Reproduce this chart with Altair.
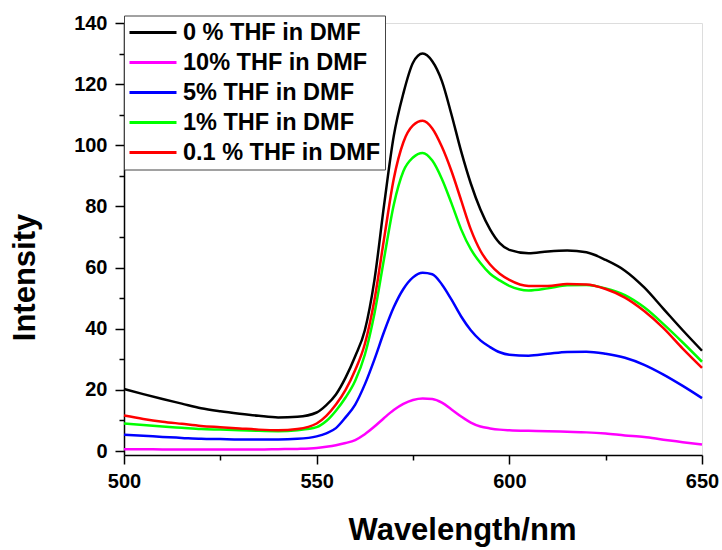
import altair as alt
import pandas as pd

wavelength = [500, 505, 510, 515, 520, 525, 530, 535, 540, 545, 550, 552.5, 555, 557.5,
              560, 562.5, 565, 567.5, 570, 572.5, 575, 577.5, 580, 582.5, 585, 587.5,
              590, 592.5, 595, 597.5, 600, 605, 610, 615, 620, 625, 630, 635, 640, 645, 650]

thf_0 = [20.3, 18.6, 17.0, 15.5, 14.0, 13.0, 12.2, 11.5, 11.0, 11.2, 12.6, 15.0, 18.5, 24.0,
         31.0, 39.5, 56.0, 80.5, 103.0, 117.0, 127.0, 130.0, 127.5, 121.0, 110.0, 98.0,
         87.5, 79.0, 72.5, 68.0, 65.8, 64.7, 65.3, 65.6, 65.0, 62.5, 59.0, 53.5, 46.5, 39.5, 32.8]

thf_10 = [0.6, 0.6, 0.5, 0.5, 0.5, 0.5, 0.5, 0.5, 0.6, 0.7, 1.0, 1.4, 1.9, 2.6,
          3.6, 5.5, 8.0, 10.8, 13.4, 15.4, 16.7, 17.2, 17.0, 15.8, 13.6, 11.3,
          9.3, 8.0, 7.4, 7.0, 6.8, 6.6, 6.5, 6.3, 6.1, 5.7, 5.1, 4.6, 3.7, 2.9, 2.1]

thf_5 = [5.3, 5.0, 4.6, 4.3, 4.0, 3.9, 3.8, 3.8, 3.8, 4.0, 4.8, 5.8, 7.5, 11.0,
         15.2, 21.8, 30.0, 39.0, 47.0, 53.0, 56.8, 58.3, 57.8, 54.5, 49.5, 44.0,
         39.5, 36.2, 34.0, 32.3, 31.5, 31.2, 31.8, 32.4, 32.5, 31.8, 30.5, 28.2, 25.0, 21.3, 17.3]

thf_1 = [9.0, 8.5, 8.0, 7.6, 7.2, 7.0, 6.8, 6.6, 6.5, 6.8, 7.8, 9.8, 13.2, 17.5,
         23.0, 31.5, 45.0, 63.0, 80.5, 91.5, 96.0, 97.5, 95.0, 89.0, 81.0, 72.5,
         66.0, 61.5, 58.0, 55.8, 54.0, 52.5, 53.2, 54.2, 54.3, 53.2, 51.0, 47.0, 41.5, 35.5, 29.2]

thf_01 = [11.6, 10.5, 9.6, 8.9, 8.2, 7.8, 7.4, 7.0, 6.8, 7.2, 9.0, 11.5, 15.2, 20.0,
          26.5, 35.0, 49.5, 69.5, 89.0, 101.0, 106.5, 108.0, 105.5, 99.5, 91.5, 82.0,
          72.5, 65.5, 61.0, 58.0, 56.0, 54.0, 54.0, 54.6, 54.5, 53.0, 50.2, 45.8, 40.2, 33.5, 27.2]

series_names = ["0 % THF in DMF", "10% THF in DMF", "5% THF in DMF", "1% THF in DMF", "0.1 % THF in DMF"]
series_values = [thf_0, thf_10, thf_5, thf_1, thf_01]
series_colors = ["#000000", "#ff00ff", "#0000ff", "#00ff00", "#ff0000"]

rows = []
for name, vals in zip(series_names, series_values):
    for w, v in zip(wavelength, vals):
        rows.append({"Wavelength": w, "Intensity": v, "Series": name})
df = pd.DataFrame(rows)

FONT = "Liberation Sans"

x_axis = alt.Axis(
    values=[500, 525, 550, 575, 600, 625, 650],
    labelExpr="datum.value % 50 === 0 ? datum.label : ''",
    tickSize={"condition": {"test": "datum.value % 50 === 0", "value": 9}, "value": 5},
    tickColor="black", tickWidth=1.5, domainColor="black", domainWidth=1.5,
    labelFont=FONT, labelFontSize=20, labelFontWeight="bold", labelColor="black",
    labelPadding=7, labelFlush=False, labelOverlap=False, grid=False,
    title="Wavelength/nm", titleFont=FONT, titleFontSize=31, titleFontWeight="bold",
    titleColor="black", titleX=338, titleY=84, titleAlign="center", titleBaseline="alphabetic",
)

y_axis = alt.Axis(
    values=[0, 10, 20, 30, 40, 50, 60, 70, 80, 90, 100, 110, 120, 130, 140],
    labelExpr="datum.value % 20 === 0 ? datum.label : ''",
    tickSize={"condition": {"test": "datum.value % 20 === 0", "value": 9}, "value": 5},
    tickColor="black", tickWidth=1.5, domainColor="black", domainWidth=1.5,
    labelFont=FONT, labelFontSize=20, labelFontWeight="bold", labelColor="black",
    labelPadding=8, labelFlush=False, labelOverlap=False, grid=False,
    title="Intensity", titleFont=FONT, titleFontSize=31, titleFontWeight="bold",
    titleColor="black", titleX=-99, titleY=254, titleAngle=270, titleAlign="center",
    titleBaseline="middle",
)

legend = alt.Legend(
    title=None, orient="none", legendX=0, legendY=-7.5,
    symbolType="stroke", symbolSize=2209, symbolStrokeWidth=3,
    labelFont=FONT, labelFontSize=23.5, labelFontWeight="bold", labelColor="black",
    labelLimit=400, labelOffset=5, padding=4, rowPadding=4, clipHeight=26,
    strokeColor="#444444", fillColor="white",
)

chart = alt.Chart(df).mark_line(strokeWidth=2.5, interpolate="monotone").encode(
    x=alt.X("Wavelength:Q", scale=alt.Scale(domain=[500, 650], nice=False, zero=False), axis=x_axis),
    y=alt.Y("Intensity:Q", scale=alt.Scale(domain=[-1.3, 140], nice=False, zero=False), axis=y_axis),
    color=alt.Color("Series:N", scale=alt.Scale(domain=series_names, range=series_colors),
                    sort=series_names, legend=legend),
    order=alt.Order("Wavelength:Q"),
).properties(
    width=578, height=432,
    autosize=alt.AutoSizeParams(type="none"),
    padding={"left": 124, "top": 23, "right": 20, "bottom": 95},
).configure_view(
    stroke="black", strokeWidth=1.5
).configure(background="white")

chart.save("out.html", embed_options={"renderer": "svg", "actions": False})
